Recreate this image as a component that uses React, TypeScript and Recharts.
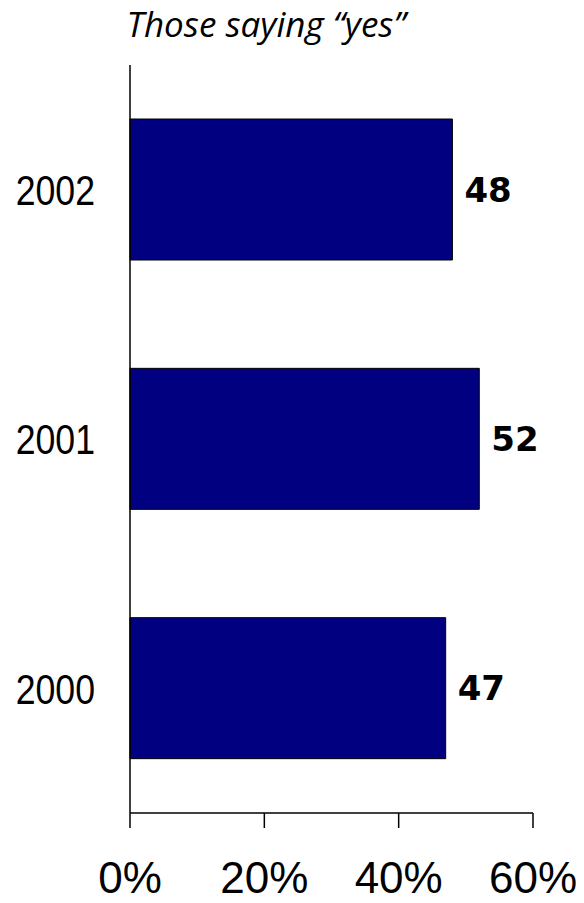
import { BarChart, Bar, XAxis, YAxis, LabelList } from "recharts";

const years = ["2002", "2001", "2000"];
const yesShare = [48, 52, 47];
const xTicks = [0, 20, 40, 60];

const data = years.map((year, i) => ({ year, value: yesShare[i] }));

const ValueLabel = (props: any) => {
  const { x, y, width, height, value } = props;
  return (
    <text
      x={x + width + 12}
      y={y + height / 2}
      dy="0.36em"
      fill="#000"
      fontFamily="'DejaVu Sans', Verdana, sans-serif"
      fontWeight="bold"
      fontSize={34}
    >
      {value}
    </text>
  );
};

// narrow look for the year labels
const YearTick = (props: any) => {
  const { x, y, payload } = props;
  return (
    <g transform={`translate(${x - 27},${y}) scale(0.83,1)`}>
      <text
        x={0}
        y={0}
        dy="0.355em"
        textAnchor="end"
        fill="#000"
        fontSize={43}
        fontFamily="'Liberation Sans', Arial, sans-serif"
      >
        {payload.value}
      </text>
    </g>
  );
};

export default function App() {
  return (
    <div style={{ position: "relative", width: 576, height: 895, background: "#fff" }}>
      <div
        style={{
          position: "absolute",
          left: 0,
          width: 516,
          top: -8,
          textAlign: "center",
          fontFamily: "'Open Sans', sans-serif",
          fontStyle: "italic",
          fontSize: 35,
          color: "#000",
          lineHeight: "48px",
        }}
      >
        Those saying “yes”
      </div>
      <BarChart
        width={576}
        height={895}
        data={data}
        layout="vertical"
        margin={{ top: 57, right: 51, left: 0, bottom: 0 }}
      >
        <XAxis
          type="number"
          domain={[0, 60]}
          ticks={xTicks}
          tickFormatter={(v) => `${v}%`}
          axisLine={{ stroke: "#000", strokeWidth: 1.5 }}
          tickLine={{ stroke: "#000", strokeWidth: 1.5 }}
          tickSize={15}
          tickMargin={34}
          height={90}
          interval={0}
          tick={{ fill: "#000", fontSize: 44, fontFamily: "'Liberation Sans', Arial, sans-serif" }}
        />
        <YAxis
          type="category"
          dataKey="year"
          width={122}
          axisLine={{ stroke: "#000", strokeWidth: 1.5 }}
          tickLine={false}
          tick={<YearTick />}
        />
        <Bar
          dataKey="value"
          fill="#000080"
          stroke="#000"
          strokeWidth={1}
          barSize={141}
          isAnimationActive={false}
        >
          <LabelList dataKey="value" content={<ValueLabel />} />
        </Bar>
      </BarChart>
    </div>
  );
}
